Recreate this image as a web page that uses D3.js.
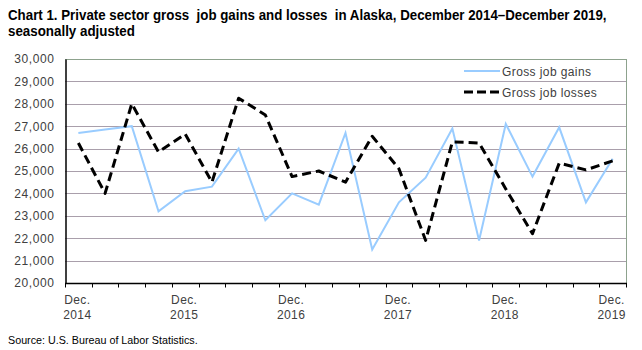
<!DOCTYPE html>
<html>
<head>
<meta charset="utf-8">
<script src="https://cdn.jsdelivr.net/npm/d3@7"></script>
<style>
  html, body { margin: 0; padding: 0; background: #fff; }
  svg { display: block; }
  .tick text { font-family: "Liberation Sans", Arial, sans-serif; }
</style>
</head>
<body>
<svg id="chart" width="642" height="350"></svg>
<script>
// ---- Data ----
const quarters = [
  "Dec 2014","Mar 2015","Jun 2015","Sep 2015",
  "Dec 2015","Mar 2016","Jun 2016","Sep 2016",
  "Dec 2016","Mar 2017","Jun 2017","Sep 2017",
  "Dec 2017","Mar 2018","Jun 2018","Sep 2018",
  "Dec 2018","Mar 2019","Jun 2019","Sep 2019",
  "Dec 2019"
];
const grossJobGains = [
  26700, 26850, 27000, 23200,
  24100, 24300, 26000, 22800,
  24000, 23500, 26700, 21500,
  23600, 24700, 26900, 21900,
  27100, 24750, 26950, 23600,
  25550
];
const grossJobLosses = [
  26250, 24000, 28000, 25850,
  26650, 24500, 28250, 27500,
  24750, 25000, 24500, 26550,
  25100, 21900, 26300, 26250,
  24200, 22200, 25350, 25050,
  25450
];
const yTicks = [20000, 21000, 22000, 23000, 24000, 25000, 26000, 27000, 28000, 29000, 30000];
const xLabels = {
  "Dec 2014": ["Dec.", "2014"],
  "Dec 2015": ["Dec.", "2015"],
  "Dec 2016": ["Dec.", "2016"],
  "Dec 2017": ["Dec.", "2017"],
  "Dec 2018": ["Dec.", "2018"],
  "Dec 2019": ["Dec.", "2019"]
};
const seriesNames = ["Gross job gains", "Gross job losses"];
const titleLines = [
  "Chart 1. Private sector gross  job gains and losses  in Alaska, December 2014\u2013December 2019,",
  "seasonally adjusted"
];
const sourceText = "Source: U.S. Bureau of Labor Statistics.";

// ---- Layout ----
const svg = d3.select("#chart");
const plot = { left: 65, top: 59, right: 626, bottom: 283 };
const textColor = "#404040";
const labelFont = '"Liberation Sans", Arial, sans-serif';

const x = d3.scaleBand().domain(quarters).range([plot.left, plot.right]).padding(0);
const y = d3.scaleLinear().domain([20000, 30000]).range([plot.bottom, plot.top]);

// Condensed text: draw at natural size, then scale horizontally to a target width
function condensedText(str, tx, ty, size, weight, targetW, color) {
  const g = svg.append("g");
  const t = g.append("text").attr("x", 0).attr("y", 0)
    .attr("font-family", labelFont).attr("font-weight", weight)
    .attr("font-size", size).attr("fill", color)
    .style("white-space", "pre").text(str);
  const w = t.node().getComputedTextLength();
  const sx = w > 0 ? targetW / w : 1;
  g.attr("transform", `translate(${tx},${ty}) scale(${sx},1)`);
  return g;
}

// Title
condensedText(titleLines[0], 8, 20, 15, "bold", 599, "#000");
condensedText(titleLines[1], 8, 36, 15, "bold", 127, "#000");

// Gridlines
svg.append("g").selectAll("line")
  .data(yTicks.filter(d => d > 20000 && d < 30000))
  .join("line")
  .attr("x1", plot.left).attr("x2", plot.right)
  .attr("y1", d => Math.round(y(d)) + 0.5).attr("y2", d => Math.round(y(d)) + 0.5)
  .attr("stroke", "#a99fab").attr("stroke-width", 1);

// Top & right border
svg.append("line")
  .attr("x1", plot.left).attr("x2", plot.right + 0.5)
  .attr("y1", plot.top + 0.5).attr("y2", plot.top + 0.5)
  .attr("stroke", "#8da28d");
svg.append("line")
  .attr("x1", plot.right + 0.5).attr("x2", plot.right + 0.5)
  .attr("y1", plot.top).attr("y2", plot.bottom)
  .attr("stroke", "#8da28d");

// Y axis
const yAxis = d3.axisLeft(y).tickValues(yTicks).tickSize(0).tickPadding(11)
  .tickFormat(d3.format(","));
const gy = svg.append("g").attr("transform", `translate(${plot.left + 0.5},0)`).call(yAxis);
gy.select(".domain").attr("stroke", "#000").attr("stroke-width", 1.5);
gy.selectAll(".tick text").attr("font-size", 12).attr("fill", textColor)
  .attr("letter-spacing", "0.6px").attr("font-family", labelFont);

// X axis with ticks at band boundaries
const gx = svg.append("g").attr("transform", `translate(0,${plot.bottom + 0.5})`);
gx.append("line").attr("x1", plot.left).attr("x2", plot.right + 1)
  .attr("stroke", "#000").attr("stroke-width", 1.5);
const boundaries = quarters.map(q => x(q)).concat([x(quarters[quarters.length - 1]) + x.bandwidth()]);
gx.selectAll("line.tk").data(boundaries).join("line").attr("class", "tk")
  .attr("x1", d => Math.round(d) + 0.5).attr("x2", d => Math.round(d) + 0.5)
  .attr("y1", 0).attr("y2", 4).attr("stroke", "#000").attr("stroke-width", 1);
const xl = gx.selectAll("text.xl").data(quarters.filter(q => xLabels[q])).join("text")
  .attr("class", "xl")
  .attr("text-anchor", "middle")
  .attr("font-family", labelFont).attr("font-size", 12).attr("fill", textColor)
  .attr("letter-spacing", "0.4px");
xl.append("tspan").attr("x", d => x(d) + x.bandwidth() / 2 - 1).attr("y", 20).text(d => xLabels[d][0]);
xl.append("tspan").attr("x", d => x(d) + x.bandwidth() / 2 - 1).attr("y", 35).text(d => xLabels[d][1]);

// Lines
const lineGen = d3.line().x((d, i) => x(quarters[i]) + x.bandwidth() / 2).y(d => y(d));
svg.append("path").datum(grossJobGains).attr("d", lineGen)
  .attr("fill", "none").attr("stroke", "#99ccff").attr("stroke-width", 2)
  .attr("stroke-linejoin", "miter");
svg.append("path").datum(grossJobLosses).attr("d", lineGen)
  .attr("fill", "none").attr("stroke", "#000").attr("stroke-width", 3)
  .attr("stroke-dasharray", "9,5").attr("stroke-linejoin", "round");

// Legend
const legend = svg.append("g");
const lg = [
  { name: seriesNames[0], color: "#99ccff", w: 2, dash: null, y: 71 },
  { name: seriesNames[1], color: "#000", w: 3, dash: "9,4", y: 92 }
];
lg.forEach(d => {
  legend.append("line").attr("x1", 464).attr("x2", 500).attr("y1", d.y).attr("y2", d.y)
    .attr("stroke", d.color).attr("stroke-width", d.w).attr("stroke-dasharray", d.dash);
  legend.append("text").attr("x", 502).attr("y", d.y + 4.5)
    .attr("font-family", labelFont).attr("font-size", 12).attr("fill", textColor)
    .attr("letter-spacing", "0.4px").text(d.name);
});

// Source
condensedText(sourceText, 8, 344, 11, "normal", 190, "#000");
</script>
</body>
</html>
